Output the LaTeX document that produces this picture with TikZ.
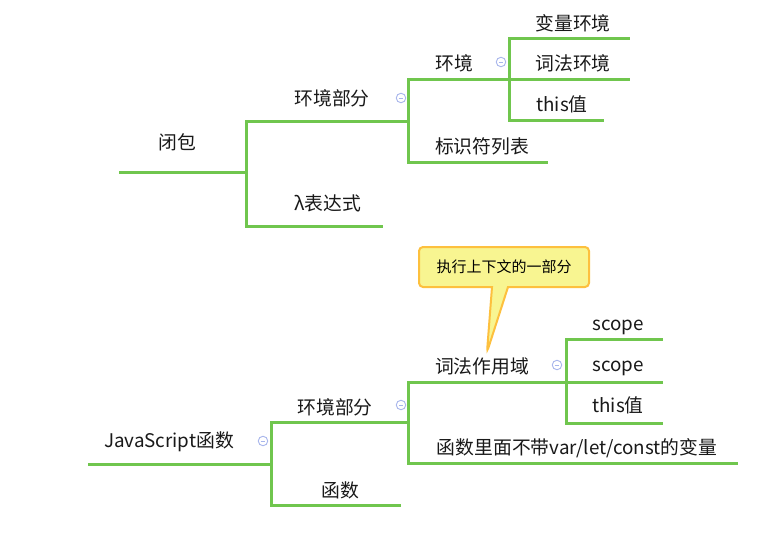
\documentclass[tikz,border=0pt]{standalone}
\usepackage{fontspec}
\setmainfont{Noto Sans CJK SC}
\usetikzlibrary{shapes.callouts}
\definecolor{mapgreen}{RGB}{112,198,78}
\definecolor{notefill}{RGB}{248,245,145}
\definecolor{noteedge}{RGB}{253,192,62}
\definecolor{foldblue}{RGB}{168,182,236}
\tikzset{
	branch/.style={mapgreen, line width=3pt},
	lbl/.style={inner sep=0pt, text=black!90, font=\fontsize{18.8}{22}\selectfont},
	fold/.style={circle, draw=foldblue, line width=0.9pt, minimum size=9.5pt, inner sep=0pt,
		path picture={\draw[foldblue, line width=1pt] ([xshift=-2.4pt]path picture bounding box.center) -- ([xshift=2.4pt]path picture bounding box.center);}},
	note/.style={rectangle callout, fill=notefill, draw=noteedge, line width=2pt, rounded corners=4pt,
		minimum width=170pt, minimum height=40pt, callout pointer width=16pt, inner sep=0pt,
		font=\fontsize{15}{18}\selectfont},
}
\begin{document}
\begin{tikzpicture}[x=1pt, y=-1pt]
	
	%The page
	\fill[white] (0,0) rectangle (778,538);
	\useasboundingbox (0,0) rectangle (778,538);
	
	%Tree of the closure
	\coordinate (bb-s) at (119,172);
	\coordinate (bb-e) at (246,172);
	\coordinate (hjbf-e) at (408,121);
	\coordinate (hj-e) at (509,79);
	\coordinate (blhj-e) at (630,38);
	\coordinate (cfhj-e) at (630,79);
	\coordinate (this-e) at (604,120);
	\coordinate (bsf-e) at (548,162);
	\coordinate (lbd-e) at (383,226);
	
	\draw[branch] (bb-s) -- (bb-e);
	\draw[branch] (bb-e) |- (hjbf-e);
	\draw[branch] (bb-e) |- (lbd-e);
	\draw[branch] (hjbf-e) |- (hj-e);
	\draw[branch] (hjbf-e) |- (bsf-e);
	\draw[branch] (hj-e) |- (blhj-e);
	\draw[branch] (hj-e) -- (cfhj-e);
	\draw[branch] (hj-e) |- (this-e);
	
	\node[lbl] (bb) at (177,142) {闭包};
	\node[lbl] (hjbf) at (332,98) {环境部分};
	\node[fold] (hjbf-f) at (401,98) {};
	\node[lbl] (hj) at (454,63) {环境};
	\node[fold] (hj-f) at (501,62) {};
	\node[lbl] (blhj) at (573,23) {变量环境};
	\node[lbl] (cfhj) at (573,63) {词法环境};
	\node[lbl] (this) at (562,104) {this值};
	\node[lbl] (bsf) at (482,146) {标识符列表};
	\node[lbl] (lbd) at (328,203) {λ表达式};
	
	%Tree of the JavaScript function
	\coordinate (js-s) at (88,464);
	\coordinate (js-e) at (271,464);
	\coordinate (hjbf2-e) at (408,422);
	\coordinate (hs-e) at (401,505);
	\coordinate (ldzy-e) at (566,382);
	\coordinate (blf-e) at (738,463);
	\coordinate (sc1-e) at (663,339);
	\coordinate (sc2-e) at (663,382);
	\coordinate (this2-e) at (663,423);
	
	\draw[branch] (js-s) -- (js-e);
	\draw[branch] (js-e) |- (hjbf2-e);
	\draw[branch] (js-e) |- (hs-e);
	\draw[branch] (hjbf2-e) |- (ldzy-e);
	\draw[branch] (hjbf2-e) |- (blf-e);
	\draw[branch] (ldzy-e) |- (sc1-e);
	\draw[branch] (ldzy-e) -- (sc2-e);
	\draw[branch] (ldzy-e) |- (this2-e);
	
	\node[lbl] (js) at (169,442) {JavaScript函数};
	\node[fold] (js-f) at (263,441) {};
	\node[lbl] (hjbf2) at (335,407) {环境部分};
	\node[fold] (hjbf2-f) at (401,405) {};
	\node[lbl] (ldzy) at (482,366) {词法作用域};
	\node[fold] (ldzy-f) at (557,365) {};
	\node[lbl] (sc1) at (618,327) {scope};
	\node[lbl] (sc2) at (618,368) {scope};
	\node[lbl] (this2) at (618,405) {this值};
	\node[lbl] (blf) at (577,448) {函数里面不带var/let/const的变量};
	\node[lbl] (hs) at (340,490) {函数};
	
	%The note on the lexical scope
	\node[note, callout absolute pointer={([xshift=5pt, yshift=5pt]ldzy.north)}] (nt) at (504,267) {执行上下文的一部分};

\end{tikzpicture}
\end{document}
